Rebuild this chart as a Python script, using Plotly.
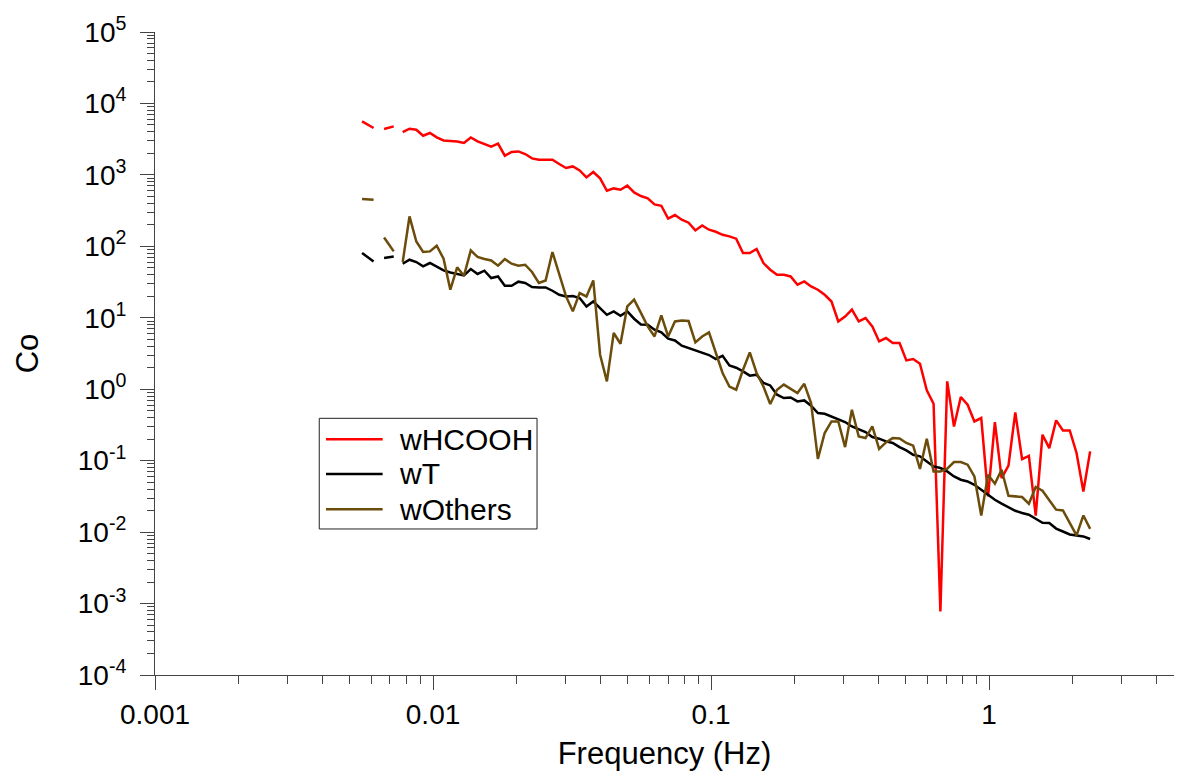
import plotly.graph_objects as go

# Frequencies (Hz); None-valued entries mark the gaps in the plotted lines
freq = [0.005556, 0.006111, 0.006389, 0.006667, 0.007222, 0.0075,
        0.007778, 0.008229, 0.008707, 0.009211, 0.009745, 0.01031, 0.01091, 0.01154, 0.01221, 0.01292,
        0.01367, 0.01446, 0.01530, 0.01619, 0.01713, 0.01812, 0.01917, 0.02028, 0.02145, 0.02270,
        0.02402, 0.02541, 0.02688, 0.02844, 0.03009, 0.03183, 0.03368, 0.03563, 0.03770, 0.03989,
        0.04220, 0.04465, 0.04723, 0.04997, 0.05287, 0.05593, 0.05918, 0.06261, 0.06623, 0.07008,
        0.07414, 0.07844, 0.08299, 0.08780, 0.09290, 0.09829, 0.1040, 0.1100, 0.1164, 0.1231,
        0.1303, 0.1378, 0.1458, 0.1543, 0.1632, 0.1727, 0.1827, 0.1933, 0.2045, 0.2164,
        0.2289, 0.2422, 0.2562, 0.2711, 0.2868, 0.3034, 0.3210, 0.3397, 0.3593, 0.3802,
        0.4022, 0.4256, 0.4502, 0.4763, 0.5039, 0.5332, 0.5641, 0.5968, 0.6314, 0.6680,
        0.7067, 0.7477, 0.7910, 0.8369, 0.8854, 0.9369, 0.9913, 1.049, 1.109, 1.174,
        1.242, 1.314, 1.390, 1.471, 1.556, 1.646, 1.742, 1.843, 1.950, 2.063,
        2.183, 2.309]

wHCOOH = [5600, 4530, None, 4390, 4770, None,
          3980, 4430, 4290, 3535, 3857, 3346, 3038, 3009, 2942, 2794,
          3346, 2942, 2705, 2480, 2732, 1856, 2091, 2132, 1960, 1701,
          1631, 1616, 1631, 1420, 1248, 1314, 1155, 922, 1097, 893,
          600, 647, 620, 706, 568, 506, 469, 386, 370, 244,
          274, 236, 214, 167, 196, 171, 160, 145, 138, 128,
          80.6, 80.6, 91.7, 58.4, 47.1, 40.1, 40.1, 37.9, 29.0, 32.3,
          27.5, 24.7, 21.0, 16.9, 8.89, 10.4, 13.0, 8.89, 9.92, 7.57,
          4.67, 5.21, 4.43, 4.43, 2.53, 2.65, 2.27, 0.962, 0.627, 0.000776,
          1.29, 0.301, 0.778, 0.607, 0.354, 0.395, 0.0316, 0.347, 0.0571, 0.0850,
          0.474, 0.105, 0.117, 0.0170, 0.231, 0.150, 0.366, 0.265, 0.265, 0.128,
          0.0371, 0.135]

wT = [80.6, 61.5, None, 68.6, 72.3, None,
      57.1, 65.0, 60.3, 52.4, 58.4, 51.3, 46.0, 43.1, 41.4, 39.2,
      48.1, 41.0, 45.6, 36.0, 37.9, 28.1, 28.1, 32.0, 30.7, 27.0,
      26.6, 26.6, 23.9, 21.0, 19.9, 20.2, 18.9, 14.4, 16.9, 13.4,
      11.0, 12.3, 10.7, 12.3, 9.70, 8.07, 8.00, 6.81, 6.24, 5.09,
      4.82, 4.06, 3.75, 3.46, 3.21, 3.01, 2.65, 2.94, 2.15, 2.00,
      1.78, 1.55, 1.60, 1.22, 1.13, 0.838, 0.753, 0.768, 0.675, 0.697,
      0.587, 0.464, 0.454, 0.416, 0.374, 0.347, 0.301, 0.277, 0.252, 0.214,
      0.203, 0.186, 0.177, 0.155, 0.139, 0.121, 0.115, 0.0976, 0.0831, 0.0789,
      0.0707, 0.0602, 0.0541, 0.0512, 0.0460, 0.0392, 0.0334, 0.0284, 0.0250, 0.0222,
      0.0199, 0.0185, 0.0175, 0.0154, 0.0135, 0.0134, 0.0112, 0.0102, 0.00928, 0.00899,
      0.00870, 0.00800]

wOthers = [460, 449, None, 133, 84.9, None,
           60.3, 262, 117, 83.3, 84.9, 102, 67.1, 24.7, 50.7, 38.8,
           87.7, 70.9, 66.4, 63.5, 53.6, 66.4, 57.1, 53.6, 55.3, 43.7,
           30.7, 33.3, 83.3, 40.1, 19.9, 12.3, 22.2, 19.9, 33.3, 3.04,
           1.29, 6.12, 4.33, 14.4, 17.9, 11.7, 7.57, 5.48, 10.8, 5.48,
           8.89, 9.18, 9.01, 4.52, 5.48, 6.24, 3.21, 1.69, 1.09, 0.984,
           1.87, 3.27, 1.69, 1.09, 0.621, 0.984, 1.16, 1.01, 0.885, 1.19,
           0.641, 0.106, 0.244, 0.354, 0.354, 0.155, 0.516, 0.218, 0.207, 0.301,
           0.146, 0.180, 0.207, 0.205, 0.177, 0.162, 0.0764, 0.203, 0.0707, 0.0707,
           0.0771, 0.0957, 0.0957, 0.0878, 0.0602, 0.0171, 0.0636, 0.0476, 0.0747, 0.0323,
           0.0316, 0.0310, 0.0250, 0.0428, 0.0380, 0.0278, 0.0206, 0.0201, 0.0134, 0.00899,
           0.0171, 0.0111]

series_names = ["wHCOOH", "wT", "wOthers"]
series_colors = ["#FF0000", "#000000", "#6B4C0A"]

x_tickvals = [0.001, 0.01, 0.1, 1]
x_ticktext = ["0.001", "0.01", "0.1", "1"]
y_exponents = [-4, -3, -2, -1, 0, 1, 2, 3, 4, 5]

FONT = "Liberation Sans, Arial, Helvetica, sans-serif"

fig = go.Figure()
for name, ys, col in zip(series_names, [wHCOOH, wT, wOthers], series_colors):
    fig.add_trace(go.Scatter(x=freq, y=ys, mode="lines", name=name,
                             line=dict(color=col, width=2.5),
                             connectgaps=False, showlegend=False))

x_minor = [m * 10.0 ** e for e in range(-3, 1) for m in range(2, 10)]
y_minor = [m * 10.0 ** e for e in range(-4, 5) for m in range(2, 10)]

axis_common = dict(showline=True, linecolor="#444444", linewidth=1,
                   ticks="outside", tickcolor="#444444", tickwidth=1,
                   showgrid=False, zeroline=False, mirror=False,
                   tickfont=dict(family=FONT, size=28, color="black"))

fig.update_layout(
    width=1178, height=776,
    margin=dict(l=155, r=4, t=32, b=101),
    paper_bgcolor="white", plot_bgcolor="white",
    font=dict(family=FONT, color="black"),
    xaxis=dict(type="log", range=[-3, 0.665],
               tickmode="array", tickvals=x_tickvals, ticktext=x_ticktext,
               ticklen=14,
               minor=dict(tickmode="array", tickvals=x_minor, ticks="outside",
                          ticklen=8, tickcolor="#444444", tickwidth=1),
               title=dict(text="Frequency (Hz)", font=dict(family=FONT, size=31),
                          standoff=13),
               **axis_common),
    yaxis=dict(type="log", range=[-4, 5],
               tickmode="array", tickvals=[10.0 ** e for e in y_exponents],
               ticktext=["10<sup>%d</sup>" % e for e in y_exponents],
               ticklen=14, ticklabelstandoff=8,
               minor=dict(tickmode="array", tickvals=y_minor, ticks="outside",
                          ticklen=7, tickcolor="#444444", tickwidth=1),
               title=dict(text="Co", font=dict(family=FONT, size=31), standoff=29),
               **axis_common),
    showlegend=False,
)

# Legend box drawn in the plot's paper coordinates
leg_x0, leg_x1, leg_y0, leg_y1 = 0.1612, 0.3749, 0.2271, 0.3992
leg_line_x0, leg_line_x1, leg_text_x = 0.1678, 0.2234, 0.2372
leg_rows = [0.3666, 0.3126, 0.2577]

fig.add_shape(type="rect", xref="paper", yref="paper",
              x0=leg_x0, x1=leg_x1, y0=leg_y0, y1=leg_y1,
              line=dict(color="#222222", width=1), fillcolor="white", layer="above")
for name, col, yy in zip(series_names, series_colors, leg_rows):
    fig.add_shape(type="line", xref="paper", yref="paper",
                  x0=leg_line_x0, x1=leg_line_x1, y0=yy, y1=yy,
                  line=dict(color=col, width=2.5), layer="above")
    fig.add_annotation(xref="paper", yref="paper", x=leg_text_x, y=yy,
                       xanchor="left", yanchor="middle", showarrow=False,
                       text=name, font=dict(family=FONT, size=30, color="black"))

fig.write_html("out.html")
